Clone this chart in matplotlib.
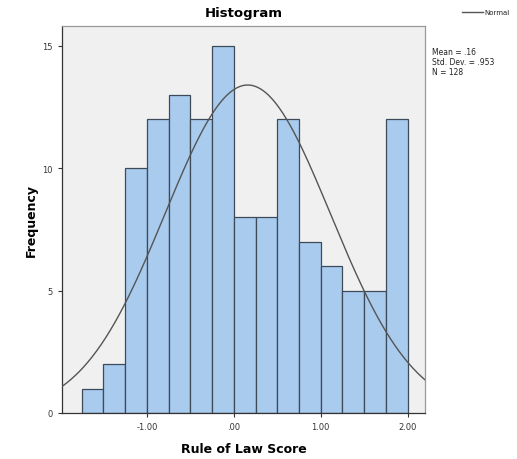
import numpy as np
import matplotlib
matplotlib.use("Agg")
import matplotlib.pyplot as plt

bin_edges = [-1.75, -1.5, -1.25, -1.0, -0.75, -0.5, -0.25, 0.0, 0.25, 0.5, 0.75, 1.0, 1.25, 1.5, 1.75, 2.0]
freqs = [1, 2, 10, 12, 13, 12, 15, 8, 8, 12, 7, 6, 5, 5, 12]
mean = 0.16
sd = 0.953
n = 128
xticks = [-1.0, 0.0, 1.0, 2.0]
xticklabels = ["-1.00", ".00", "1.00", "2.00"]
yticks = [0, 5, 10, 15]

fig = plt.figure(figsize=(5.17, 4.6), dpi=100)
ax = fig.add_axes([0.12, 0.1, 0.702, 0.841])
ax.set_facecolor("#f0f0f0")

edges = np.array(bin_edges)
widths = np.diff(edges)
ax.bar(edges[:-1], freqs, width=widths, align="edge", color="#a9cbee",
       edgecolor="#3c4a5a", linewidth=0.9, zorder=2)

xlim = (-1.977, 2.2)
xs = np.linspace(xlim[0], xlim[1], 400)
bw = widths[0]
ys = n * bw / (sd * np.sqrt(2 * np.pi)) * np.exp(-0.5 * ((xs - mean) / sd) ** 2)
ax.plot(xs, ys, color="#555555", linewidth=1.0, zorder=3)

ax.set_xlim(*xlim)
ax.set_ylim(0, 15.8)
ax.set_xticks(xticks)
ax.set_xticklabels(xticklabels)
ax.set_yticks(yticks)
ax.tick_params(axis="both", labelsize=6, colors="#333333", length=3, width=0.8)
for s in ["top", "right"]:
    ax.spines[s].set_color("#999999")
    ax.spines[s].set_linewidth(0.9)
for s in ["left", "bottom"]:
    ax.spines[s].set_color("#333333")
    ax.spines[s].set_linewidth(0.9)

ax.set_xlabel("Rule of Law Score", fontsize=9, fontweight="bold", labelpad=8)
ax.set_ylabel("Frequency", fontsize=9, fontweight="bold", labelpad=3)
ax.set_title("Histogram", fontsize=9.5, fontweight="bold", pad=7)

fig.text(0.836, 0.895, "Mean = .16\nStd. Dev. = .953\nN = 128", fontsize=5.5,
         va="top", ha="left", color="#222222", linespacing=1.1)
fig.lines.append(plt.Line2D([0.894, 0.934], [0.971, 0.971], transform=fig.transFigure,
                            color="#555555", linewidth=1.0))
fig.text(0.937, 0.971, "Normal", fontsize=5, va="center", ha="left", color="#222222")

fig.savefig("out.png", dpi=100)
